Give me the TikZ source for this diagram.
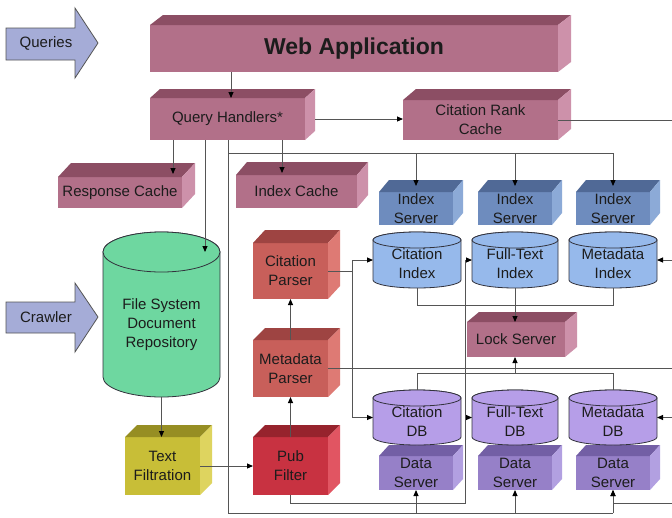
\documentclass[tikz,border=0pt]{standalone}
\usepackage{fontspec}
\setmainfont{Liberation Sans}
\usetikzlibrary{arrows.meta,calc}
\definecolor{txt}{RGB}{28,28,28}
\definecolor{lnc}{RGB}{85,85,85}
\definecolor{cylline}{RGB}{50,50,60}
\definecolor{pinkF}{RGB}{178,112,137}
\definecolor{pinkT}{RGB}{140,78,100}
\definecolor{pinkS}{RGB}{205,145,170}
\definecolor{blueF}{RGB}{110,140,190}
\definecolor{blueT}{RGB}{80,105,150}
\definecolor{blueS}{RGB}{140,170,215}
\definecolor{idxC}{RGB}{150,185,235}
\definecolor{dbC}{RGB}{182,158,232}
\definecolor{dsF}{RGB}{150,128,200}
\definecolor{dsT}{RGB}{115,95,165}
\definecolor{dsS}{RGB}{178,160,225}
\definecolor{parF}{RGB}{200,95,90}
\definecolor{parT}{RGB}{158,68,66}
\definecolor{parS}{RGB}{222,122,116}
\definecolor{pubF}{RGB}{200,50,65}
\definecolor{pubT}{RGB}{150,35,45}
\definecolor{pubS}{RGB}{225,85,98}
\definecolor{tfF}{RGB}{200,190,55}
\definecolor{tfT}{RGB}{150,142,35}
\definecolor{tfS}{RGB}{222,212,95}
\definecolor{fsC}{RGB}{110,215,160}
\definecolor{arrC}{RGB}{165,172,215}
\newcommand{\lab}{\fontsize{15}{19}\selectfont}
% name, cx, cy, w, h, dx, dy, colour family, text
\newcommand{\cubebox}[9]{%
  \node[front, fill=#8F, minimum width=#4pt, minimum height=#5pt] (#1) at (#2,#3) {#9};
  \fill[#8T] (#1.north west) -- ++(#6,-#7) -- ++(#4,0) -- (#1.north east) -- cycle;
  \fill[#8S] (#1.north east) -- ++(#6,-#7) -- ++(0,#5) -- (#1.south east) -- cycle;
}
% name, cx, top, bottom, w, ry, colour, text
\newcommand{\cyl}[8]{%
  \filldraw[fill=#7, draw=cylline, line width=0.8pt]
    ({#2-#5/2},{#3+#6}) -- ({#2-#5/2},{#4-#6})
    arc[start angle=180, end angle=360, x radius={#5pt/2}, y radius=#6pt]
    -- ({#2+#5/2},{#3+#6})
    arc[start angle=0, end angle=180, x radius={#5pt/2}, y radius=#6pt] -- cycle;
  \filldraw[fill=#7, draw=cylline, line width=0.8pt] (#2,{#3+#6}) ellipse [x radius={#5pt/2}, y radius=#6pt];
  \node[inner sep=0pt, outer sep=0pt, minimum width=#5pt, minimum height={#4pt-#3pt}] (#1) at (#2,{(#3+#4)/2}) {};
  \node[lbl] (#1-t) at (#2,{(#3+#6+#4)/2}) {#8};
}
\begin{document}
\begin{tikzpicture}[x=1pt,y=-1pt,
  front/.style={inner sep=0pt, outer sep=0pt, align=center, font=\lab, text=txt},
  lbl/.style={inner sep=0pt, outer sep=0pt, align=center, font=\lab, text=txt},
  conn/.style={draw=lnc, line width=0.9pt},
  arr/.style={conn, -{Triangle[length=6pt,width=5pt,color=black]}},
  bigarrow/.style={fill=arrC, draw=lnc, line width=0.8pt}]
\useasboundingbox (0,0) rectangle (672,517);
\fill[white] (0,0) rectangle (672,517);

% input arrows
\filldraw[bigarrow] (6,28) -- (75,28) -- (75,8) -- (98,43) -- (75,78) -- (75,60) -- (6,60) -- cycle;
\node[lbl] (queries) at (46,43) {Queries};
\filldraw[bigarrow] (6,302) -- (75,302) -- (75,283) -- (98,317) -- (75,352) -- (75,333) -- (6,333) -- cycle;
\node[lbl] (crawler) at (46,317) {Crawler};

% boxes
\cubebox{webapp}{354}{48.5}{408}{47}{13}{10}{pink}{\fontsize{23}{26}\selectfont\bfseries Web Application}
\cubebox{qh}{227.5}{119}{155}{42}{10}{9}{pink}{Query Handlers*}
\cubebox{crc}{480.5}{120}{155}{40}{13}{11}{pink}{Citation Rank\\Cache}
\cubebox{rcache}{120}{192.5}{124}{31}{13}{14}{pink}{Response Cache}
\cubebox{icache}{296.5}{191.5}{121}{33}{11}{13}{pink}{Index Cache}
\cubebox{is1}{416}{208.5}{74}{33}{10}{12}{blue}{Index\\Server}
\cubebox{is2}{515}{208.5}{74}{33}{10}{12}{blue}{Index\\Server}
\cubebox{is3}{613}{208.5}{74}{33}{10}{12}{blue}{Index\\Server}
\cubebox{lock}{516}{339.5}{98}{35}{12}{10}{pink}{Lock Server}
\cubebox{ds1}{416}{473}{74}{34}{10}{11}{ds}{Data\\Server}
\cubebox{ds2}{515}{473}{74}{34}{10}{11}{ds}{Data\\Server}
\cubebox{ds3}{613}{473}{74}{34}{10}{11}{ds}{Data\\Server}
\cubebox{cp}{290.5}{271}{75}{56}{12}{13}{par}{Citation\\Parser}
\cubebox{mp}{290.5}{368.5}{75}{57}{12}{12}{par}{Metadata\\Parser}
\cubebox{pf}{290.5}{466}{75}{58}{12}{12}{pub}{Pub\\Filter}
\cubebox{tf}{162.5}{466}{75}{58}{12}{12}{tf}{Text\\Filtration}

% cylinders
\cyl{idx1}{417}{232}{288}{88}{8}{idxC}{Citation\\Index}
\cyl{idx2}{515}{232}{288}{86}{8}{idxC}{Full-Text\\Index}
\cyl{idx3}{613}{232}{288}{88}{8}{idxC}{Metadata\\Index}
\cyl{db1}{417}{390}{445}{88}{8}{dbC}{Citation\\DB}
\cyl{db2}{515}{390}{445}{86}{8}{dbC}{Full-Text\\DB}
\cyl{db3}{613}{390}{445}{88}{8}{dbC}{Metadata\\DB}
\cyl{fs}{161.5}{232}{397}{117}{20}{fsC}{File System\\Document\\Repository}

% helper coordinates
\coordinate (k1) at (231,0);
\coordinate (k2) at (173,0);
\coordinate (k3) at (282,0);
\coordinate (k4) at (205,0);
\coordinate (k5) at (228,0);
\coordinate (v1) at (352,0);
\coordinate (v2) at (465,0);
\coordinate (yIS) at (0,153);
\coordinate (yBot) at (0,513);
\coordinate (yIdx) at (0,305);
\coordinate (yDb) at (0,373);
\coordinate (yPf) at (0,503);
\coordinate (edge) at (672,0);

% connectors
\draw[arr] (webapp.south -| k1) -- (qh.north -| k1);
\draw[arr] (qh.south -| k2) -- ($(rcache.north -| k2)+(0,-3)$);
\draw[arr] (qh.south -| k3) -- ($(icache.north -| k3)+(0,-2)$);
\draw[arr] (qh.south -| k4) -- ($(fs.north -| k4)+(0,20)$);
\draw[arr] ($(qh.east)+(10,0)$) -- (qh.east -| crc.west);
\draw[conn] (crc.east) -- (crc.east -| edge);

\draw[conn] (qh.south -| k5) -- (k5 |- yBot) -- (ds3.south |- yBot);
\draw[conn] (k5 |- yIS) -- (is3.north |- yIS);
\draw[arr] (is1.north |- yIS) -- ($(is1.north)+(0,-6)$);
\draw[arr] (is2.north |- yIS) -- ($(is2.north)+(0,-6)$);
\draw[arr] (is3.north |- yIS) -- ($(is3.north)+(0,-6)$);
\draw[arr] (ds1.south |- yBot) -- (ds1.south);
\draw[arr] (ds2.south |- yBot) -- (ds2.south);
\draw[arr] (ds3.south |- yBot) -- (ds3.south);

\draw[conn] (idx1.south) |- (idx3.south |- yIdx) -- (idx3.south);
\draw[arr] (idx2.south) -- (lock.north -| idx2.south);
\draw[conn] (db1.north) |- (db3.north |- yDb) -- (db3.north);
\draw[arr] (db2.north |- yDb) -- (lock.south -| db2.north);

\draw[arr] (cp.east) -- (cp.east -| v1) |- (idx1.west);
\draw[arr] (cp.east -| v1) |- (db1.west);
\draw[conn] (mp.east) -- (mp.east -| edge);
\draw[arr] (pf.south) |- (v2 |- yPf) |- (idx2.west);
\draw[arr] (db2.west -| v2) -- (db2.west);

\draw[arr] (pf.north) -- (mp.south);
\draw[arr] (mp.north) -- (cp.south);
\draw[arr] (tf.east) -- (pf.west);
\draw[arr] (fs.south) -- (fs.south |- tf.north);

\draw[arr] (idx3.east -| edge) -- (idx3.east);
\draw[arr] (db3.east -| edge) -- (db3.east);
\draw[arr] (edge |- yPf) -| (ds3.south);
\end{tikzpicture}
\end{document}
